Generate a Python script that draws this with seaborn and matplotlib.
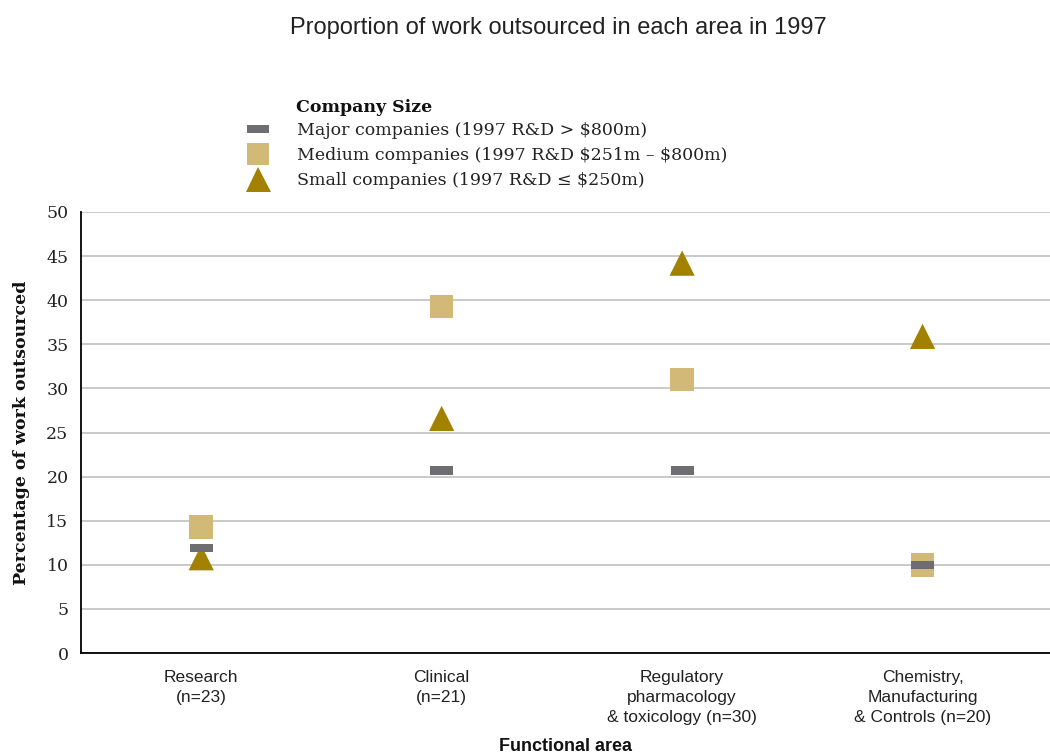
import numpy as np
import pandas as pd
import matplotlib
matplotlib.use("Agg")
import matplotlib.pyplot as plt
from matplotlib.lines import Line2D
import seaborn as sns

sns.set_style("white")

# Data
areas = ["Research\n(n=23)", "Clinical\n(n=21)",
         "Regulatory\npharmacology\n& toxicology (n=30)",
         "Chemistry,\nManufacturing\n& Controls (n=20)"]
major = [11.9, 20.7, 20.7, 10.0]
medium = [14.3, 39.3, 31.0, 10.0]
small = [10.8, 26.6, 44.2, 35.9]

groups = ["Major companies (1997 R&D > \\$800m)",
          "Medium companies (1997 R&D \\$251m \u2013 \\$800m)",
          "Small companies (1997 R&D \u2264 \\$250m)"]
colors = ["#6d6d72", "#d3b977", "#a28000"]

bar = [(-1, -0.36), (1, -0.36), (1, 0.36), (-1, 0.36)]
markers = {groups[0]: bar, groups[1]: "s", groups[2]: "^"}
sizes = {groups[0]: 270, groups[1]: 290, groups[2]: 330}

df = pd.DataFrame({
    "area": areas * 3,
    "pos": list(range(4)) * 3,
    "value": major + medium + small,
    "group": [groups[0]] * 4 + [groups[1]] * 4 + [groups[2]] * 4,
})

serif = ["DejaVu Serif"]
sans = ["Liberation Sans", "DejaVu Sans"]

fig = plt.figure(figsize=(10.5, 7.56), dpi=100)
ax = fig.add_axes([81 / 1050, 1 - 653 / 756, 969 / 1050, 441 / 756])

# draw small first so major / medium sit on top
for g, c in zip([groups[2], groups[1], groups[0]], [colors[2], colors[1], colors[0]]):
    sub = df[df["group"] == g]
    sns.scatterplot(data=sub, x="pos", y="value", marker=markers[g], s=sizes[g],
                    color=c, edgecolor="none", linewidth=0, ax=ax, zorder=3, legend=False)

ax.set_xlim(-0.5, 3.53)
ax.set_ylim(0, 50)
ax.set_yticks(np.arange(0, 51, 5))
ax.set_xticks(range(4))
ax.set_xticklabels(areas, family=sans, fontsize=12.5, color="#222222", linespacing=1.45)
for t in ax.get_yticklabels():
    t.set_family(serif)
    t.set_fontsize(12.5)
    t.set_color("#222222")
ax.yaxis.grid(True, color="#c9c9c9", linewidth=1.4, zorder=0)
ax.set_axisbelow(True)
ax.tick_params(axis="y", direction="in", length=14, width=1.3, color="black", pad=9)
ax.tick_params(axis="x", length=0, pad=12)
for side in ["top", "right"]:
    ax.spines[side].set_visible(False)
for side in ["left", "bottom"]:
    ax.spines[side].set_color("black")
    ax.spines[side].set_linewidth(1.3)

ax.set_xlabel("Functional area", family=sans, fontsize=13, fontweight="bold",
              labelpad=9, color="#111111")
ax.set_ylabel("Percentage of work outsourced", family=serif, fontsize=12.5,
              fontweight="bold", labelpad=12, color="#111111")

fig.text(0.532, 1 - 28 / 756, "Proportion of work outsourced in each area in 1997",
         ha="center", va="center", family=sans, fontsize=17, color="#222222")

handles = [
    Line2D([], [], linestyle="none", marker=bar, markersize=16, color=colors[0], markeredgewidth=0),
    Line2D([], [], linestyle="none", marker="s", markersize=16, color=colors[1], markeredgewidth=0),
    Line2D([], [], linestyle="none", marker="^", markersize=18, color=colors[2], markeredgewidth=0),
]
fig.text(296 / 1050, 1 - 107 / 756, "Company Size", family=serif, fontsize=12.5,
         fontweight="bold", va="center", ha="left", color="#111111")
fig.legend(handles, groups, loc="upper left", bbox_to_anchor=(246 / 1050, 1 - 122 / 756),
           frameon=False, prop={"family": serif, "size": 12.5}, labelspacing=0.45,
           handletextpad=1.55, handlelength=1.4, borderpad=0, borderaxespad=0,
           labelcolor="#222222")

fig.savefig("out.png", dpi=100)
